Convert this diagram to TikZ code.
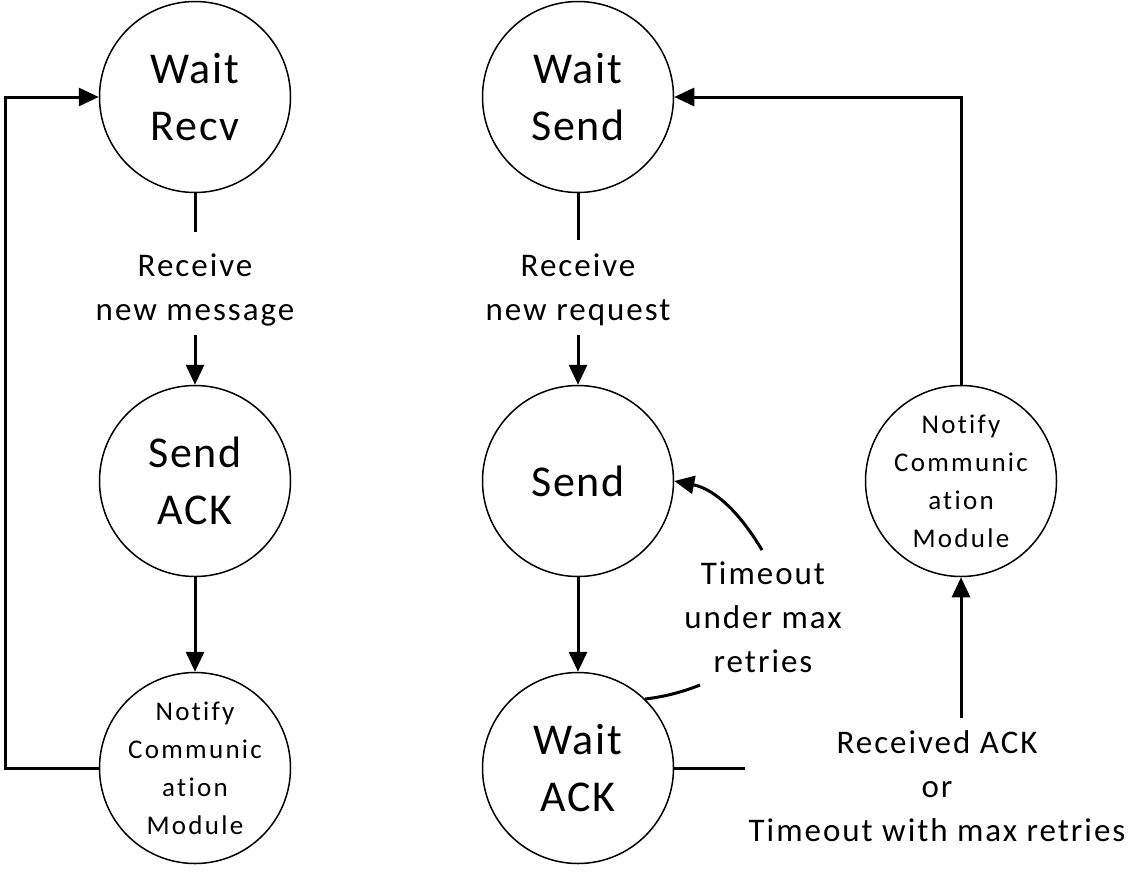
\documentclass[tikz,border=0pt]{standalone}
\usepackage{fontspec}
\setmainfont{Carlito}[Ligatures=NoCommon]
\newfontfamily\statefont{Carlito}[Ligatures=NoCommon,LetterSpace=4]
\newfontfamily\labfont{Carlito}[Ligatures=NoCommon,LetterSpace=6]
\newfontfamily\notefont{Carlito}[Ligatures=NoCommon,LetterSpace=8.5]
\usetikzlibrary{arrows.meta}
\begin{document}
\begin{tikzpicture}[x=1pt,y=-1pt,
  state/.style={circle,draw,line width=1.5pt,minimum size=191pt,inner sep=0pt,align=center,font=\statefont\fontsize{44}{57}\selectfont},
  small/.style={circle,draw,line width=1.5pt,minimum size=191pt,inner sep=0pt,align=center,font=\notefont\fontsize{27}{38}\selectfont},
  lab/.style={align=center,inner sep=0pt,font=\labfont\fontsize{33}{44}\selectfont},
  edge/.style={line width=3pt},
  arr/.style={line width=3pt,-{Triangle[length=20pt,width=18pt]}}]
\useasboundingbox (0,0) rectangle (1147,871);
\node[state] (WR) at (195,97) {Wait\\Recv};
\node[state] (SA) at (195,481) {Send\\ACK};
\node[small] (NL) at (195,768) {Notify\\Communic\\ation\\Module};
\node[state] (WS) at (578,97) {Wait\\Send};
\node[state] (SE) at (578,481) {Send};
\node[state] (WA) at (578,768) {Wait\\ACK};
\node[small] (NR) at (961,481) {Notify\\Communic\\ation\\Module};
\node[lab] (L1) at (195,290) {Receive\\new message};
\node[lab] (L2) at (578,290) {Receive\\new request};
\node[lab] (L3) at (763,617) {Timeout\\under max\\retries};
\node[lab] (L4) at (937,786) {Received ACK\\or\\Timeout with max retries};
% left column
\coordinate (c1) at (195,232);
\coordinate (c2) at (195,335);
\draw[edge] (WR.south) -- (c1);
\draw[arr] (c2) -- (SA.north);
\draw[arr] (SA.south) -- (NL.north);
\coordinate (lb) at (5,768);
\coordinate (lt) at (5,97);
\draw[arr] (NL.west) -- (lb) -- (lt) -- (WR.west);
% right column
\coordinate (c3) at (578,240);
\coordinate (c4) at (578,335);
\draw[edge] (WS.south) -- (c3);
\draw[arr] (c4) -- (SE.north);
\draw[arr] (SE.south) -- (WA.north);
\coordinate (t1) at (762,550);
\draw[arr] (t1) .. controls (735,505) and (710,488) .. (SE.east);
\coordinate (t2) at (700,685);
\coordinate (t3) at (645,699);
\draw[edge] (t2) .. controls (680,693) and (662,697) .. (t3);
\coordinate (w1) at (745,768);
\draw[edge] (WA.east) -- (w1);
\coordinate (r1) at (961,718);
\draw[arr] (r1) -- (NR.south);
\coordinate (rt) at (961,97);
\draw[arr] (NR.north) -- (rt) -- (WS.east);
\end{tikzpicture}
\end{document}
